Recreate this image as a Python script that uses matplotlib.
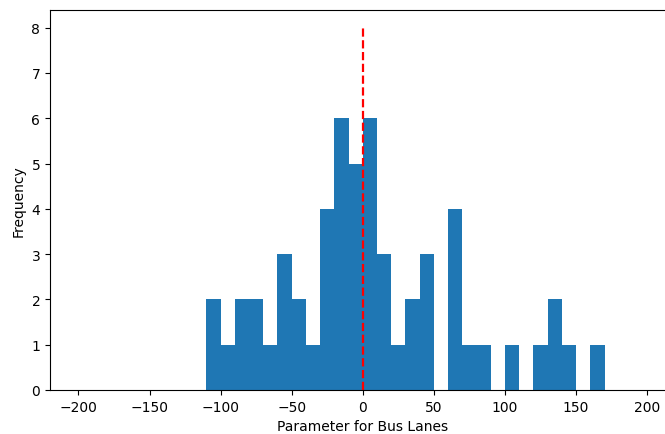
import numpy as np
import matplotlib
matplotlib.use('Agg')
import matplotlib.pyplot as plt

# histogram of estimated bus lane parameter (bins of width 10)
bin_edges = np.arange(-110, 171, 10)
counts = [2, 1, 2, 2, 1, 3, 2, 1, 4, 6, 5, 6, 3, 1,
          2, 3, 0, 4, 1, 1, 0, 1, 0, 1, 2, 1, 0, 1]
ref_value = 0
ref_top = 8

fig = plt.figure(figsize=(6.65, 4.35), dpi=100)
ax = fig.add_axes([50 / 665, 44 / 435, 625.6 / 665, 380.5 / 435])

centers = (bin_edges[:-1] + bin_edges[1:]) / 2
ax.hist(centers, bins=bin_edges, weights=counts, color='#1f77b4')
ax.plot([ref_value, ref_value], [0, ref_top], 'r--', linewidth=1.6)

ax.set_xlim(-220, 220)
ax.set_ylim(0, 8.4)
ax.set_xlabel('Parameter for Bus Lanes')
ax.set_ylabel('Frequency')

fig.savefig('out.png', dpi=100)
